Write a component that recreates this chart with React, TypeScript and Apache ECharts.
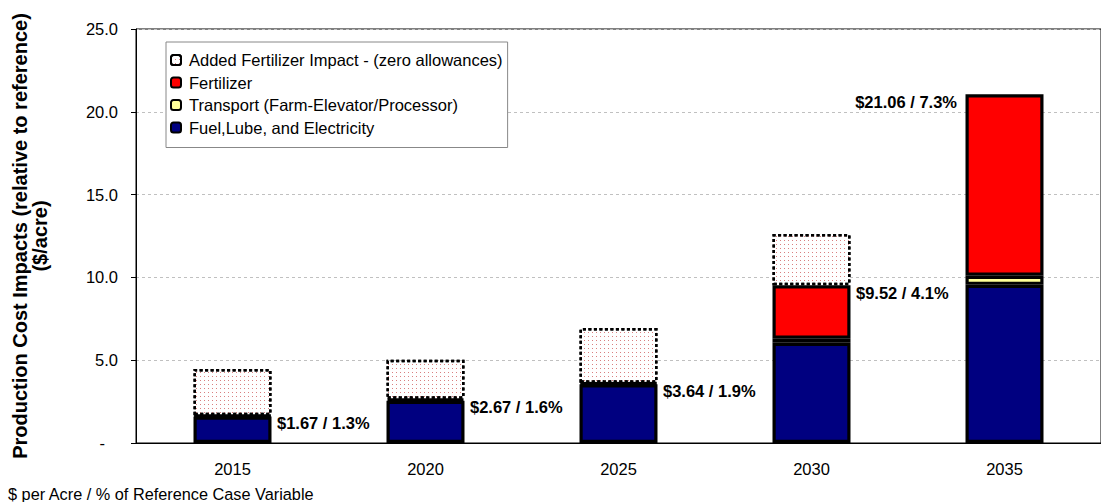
import React, { useEffect, useRef } from "react";
import * as echarts from "echarts";

const years = ["2015", "2020", "2025", "2030", "2035"];
const fuelLubeElectricity = [1.6, 2.55, 3.55, 6.05, 9.55];
const transport = [0.07, 0.12, 0.09, 0.25, 0.55];
const fertilizer = [null, null, null, 3.22, 10.96];
const addedFertilizer = [2.8, 2.35, 3.3, 3.1, null];
const totalLabels = ["$1.67 / 1.3%", "$2.67 / 1.6%", "$3.64 / 1.9%", "$9.52 / 4.1%", "$21.06 / 7.3%"];
const yTicks = [0, 5, 10, 15, 20, 25];

const FONT = "'Liberation Sans', Arial, sans-serif";

export default function App() {
  const ref = useRef<HTMLDivElement>(null);
  useEffect(() => {
    if (!ref.current) return;
    const chart = echarts.init(ref.current, undefined, { renderer: "svg" });
    const totals = years.map(
      (_, i) => fuelLubeElectricity[i] + transport[i] + (fertilizer[i] || 0)
    );
    const solidStyle = (color: string) => ({
      color,
      borderColor: "#000",
      borderWidth: 3.2,
    });
    chart.setOption({
      animation: false,
      textStyle: { fontFamily: FONT },
      grid: { left: 136, top: 29, width: 978, height: 414, show: true, borderColor: "#000", borderWidth: 1 },
      legend: {
        orient: "vertical",
        left: 166,
        top: 42,
        data: [
          "Added Fertilizer Impact - (zero allowances)",
          "Fertilizer",
          "Transport (Farm-Elevator/Processor)",
          "Fuel,Lube, and Electricity",
        ],
        backgroundColor: "#fff",
        borderColor: "#888",
        borderWidth: 1,
        padding: [9, 5, 11, 4],
        itemWidth: 10,
        itemHeight: 10,
        itemGap: 4.5,
        icon: "roundRect",
        selectedMode: false,
        textStyle: { fontSize: 16.5, lineHeight: 18, color: "#000", fontFamily: FONT, padding: [0, 0, 0, 3] },
      },
      xAxis: {
        type: "category",
        data: years,
        axisLine: { lineStyle: { color: "#000", width: 1 } },
        axisTick: { length: 5, lineStyle: { color: "#000" } },
        axisLabel: { fontSize: 16.5, color: "#000", margin: 17, fontFamily: FONT },
      },
      yAxis: {
        type: "value",
        min: 0,
        max: 25,
        interval: 5,
        name: "Production Cost Impacts (relative to reference)\n($/acre)",
        nameLocation: "middle",
        nameRotate: 90,
        nameGap: 86,
        nameTextStyle: { fontSize: 20, fontWeight: "bold", color: "#000", fontFamily: FONT, lineHeight: 20 },
        axisLine: { show: true, lineStyle: { color: "#000", width: 1 } },
        axisTick: { show: true, length: 5, lineStyle: { color: "#000" } },
        axisLabel: {
          fontSize: 16.5,
          color: "#000",
          margin: 18,
          fontFamily: FONT,
          formatter: (v: number) => (yTicks.indexOf(v) === 0 ? "{d|-}" : v.toFixed(1)),
          rich: { d: { fontSize: 16.5, color: "#000", padding: [0, 13, 0, 0], fontFamily: FONT } },
        },
        splitLine: { show: true, lineStyle: { color: "#c0c0c0", type: [3, 3] } },
      },
      series: [
        {
          name: "Fuel,Lube, and Electricity",
          type: "bar",
          stack: "cost",
          barWidth: 78,
          data: fuelLubeElectricity,
          itemStyle: solidStyle("#000080"),
        },
        {
          name: "Transport (Farm-Elevator/Processor)",
          type: "bar",
          stack: "cost",
          data: transport,
          itemStyle: solidStyle("#ffff99"),
        },
        {
          name: "Fertilizer",
          type: "bar",
          stack: "cost",
          data: fertilizer,
          itemStyle: solidStyle("#ff0000"),
        },
        {
          name: "Added Fertilizer Impact - (zero allowances)",
          type: "bar",
          stack: "cost",
          data: addedFertilizer,
          itemStyle: {
            color: "#fff",
            borderColor: "#000",
            borderWidth: 2.5,
            borderType: [3, 2.5],
            decal: {
              symbol: "rect",
              symbolSize: 1,
              dashArrayX: [1, 3],
              dashArrayY: [1, 3],
              color: "#d98080",
              rotation: 0,
            },
          },
        },
        {
          name: "labels",
          type: "scatter",
          symbolSize: 1,
          itemStyle: { color: "rgba(0,0,0,0)" },
          z: 10,
          data: totals.map((t, i) => ({
            value: t,
            label:
              i === totals.length - 1
                ? { position: "left", distance: 47 }
                : { position: "right", distance: 44 },
          })),
          label: {
            show: true,
            formatter: (p: any) => totalLabels[p.dataIndex],
            fontSize: 16.5,
            fontWeight: "bold",
            color: "#000",
            opacity: 1,
            fontFamily: FONT,
            offset: [0, 8],
          },
        },
      ],
      graphic: [
        {
          type: "text",
          left: 8,
          top: 486,
          style: {
            text: "$ per Acre / % of Reference Case Variable",
            font: `16.3px ${FONT}`,
            fill: "#000",
          },
        },
      ],
    });
    return () => chart.dispose();
  }, []);
  return (
    <div
      ref={ref}
      style={{ position: "fixed", left: 0, top: 0, width: 1101, height: 502, background: "#fff" }}
    />
  );
}
